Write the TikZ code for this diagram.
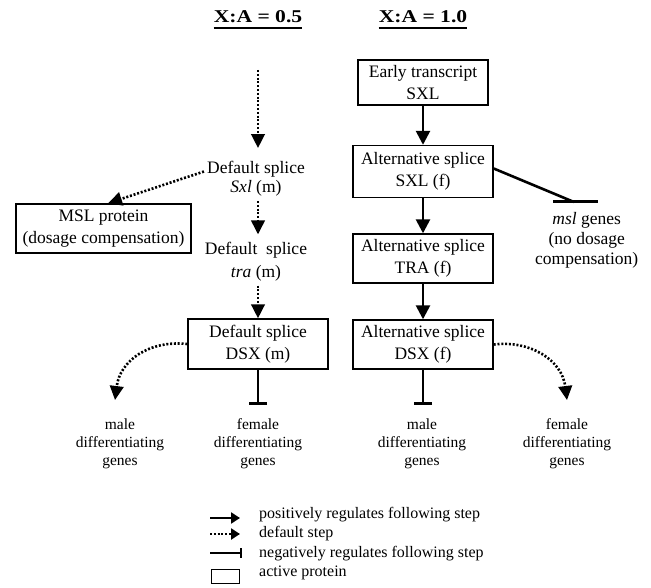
\documentclass[tikz,border=0pt]{standalone}
\usepackage{fontspec}
\usepackage{graphicx}
\setmainfont{Liberation Serif}
\usetikzlibrary{arrows.meta}
\begin{document}
\begin{tikzpicture}[x=1pt,y=-1pt,
  box/.style={draw,line width=1.4pt,align=center,inner sep=0pt,minimum width=140pt,minimum height=50pt,font=\fontsize{17.5}{21.5}\selectfont},
  txt/.style={align=center,inner sep=0pt,font=\fontsize{17.5}{19.5}\selectfont},
  gene/.style={align=center,inner sep=0pt,font=\fontsize{15.5}{18}\selectfont},
  titletext/.style={anchor=base,inner sep=0pt,font=\fontsize{18}{20}\selectfont\bfseries},
  legtext/.style={anchor=base west,inner sep=0pt,font=\fontsize{16}{18}\selectfont},
  posarrow/.style={line width=2.6pt,-{Triangle[length=14pt,width=14pt]}},
  dfltarrow/.style={line width=2.6pt,dash pattern=on 2pt off 1.8pt,-{Triangle[length=14pt,width=13.5pt]}},
  negarrow/.style={line width=2.8pt,-{Bar[width=18pt]}},
  barline/.style={line width=3pt},
]
\useasboundingbox (0,0) rectangle (651,588);

% titles
\node[titletext] (t1) at (258,22.7) {\scalebox{1.2}[1]{X:A = 0.5}};
\node[titletext] (t2) at (423,22.7) {\scalebox{1.2}[1]{X:A = 1.0}};
\draw[line width=2.2pt] ([yshift=-5.3pt]t1.base west) -- ([yshift=-5.3pt]t1.base east);
\draw[line width=2.2pt] ([yshift=-5.3pt]t2.base west) -- ([yshift=-5.3pt]t2.base east);

% left column (X:A = 0.5)
\coordinate (s0) at (258,70);
\node[txt] (dsxl) at (256,178.5) {Default splice\\\textit{Sxl} (m)};
\node[txt,font=\fontsize{17.5}{23}\selectfont] (dtra) at (256,262.1) {Default\ \ splice\\\textit{tra} (m)};
\node[box] (dsxm) at (258,344) {Default splice\\DSX (m)};
\node[box,minimum width=175pt,minimum height=49pt] (msl) at (103.5,228.5) {MSL protein\\(dosage compensation)};
\node[gene] (maleL) at (120,443.4) {male\\differentiating\\genes};
\node[gene] (femL) at (258,443.4) {female\\differentiating\\genes};
\coordinate (inhL) at (258,405);
\coordinate (tipL) at (115,400);

\draw[dfltarrow] (s0) -- ([xshift=2pt,yshift=12.5pt]dsxl.north);
\draw[dfltarrow] ([xshift=2pt,yshift=-4.5pt]dsxl.south) -- ([xshift=2pt,yshift=8pt]dtra.north);
\draw[dfltarrow] ([xshift=2pt,yshift=-3.8pt]dtra.south) -- (dsxm.north);
\draw[dfltarrow] ([xshift=-3pt,yshift=7pt]dsxl.west) -- ([xshift=4.5pt]msl.north);
\draw[negarrow] (dsxm.south) -- (inhL);
\draw[dfltarrow] (dsxm.west) .. controls (150,340) and (120,360) .. (tipL);

% right column (X:A = 1.0)
\node[box,minimum width=130pt,minimum height=45pt] (early) at (423,82.5) {Early transcript\\SXL};
\node[box,minimum height=52pt] (altsxl) at (423,171.5) {Alternative splice\\SXL (f)};
\node[box,minimum height=49pt] (alttra) at (423,258.5) {Alternative splice\\TRA (f)};
\node[box,minimum height=49pt] (dsxf) at (423,344.5) {Alternative splice\\DSX (f)};
\node[txt,font=\fontsize{17.5}{20}\selectfont] (mslg) at (586.7,240) {\textit{msl} genes\\(no dosage\\compensation)};
\node[gene] (maleR) at (422,443.4) {male\\differentiating\\genes};
\node[gene] (femR) at (567,443.4) {female\\differentiating\\genes};
\coordinate (inhR) at (423,405);
\coordinate (mslend) at (574,202);
\coordinate (barL) at (553,202);
\coordinate (barR) at (598,202);
\coordinate (tipR) at (567,400);

\draw[posarrow] (early.south) -- (altsxl.north);
\draw[posarrow] (altsxl.south) -- (alttra.north);
\draw[posarrow] (alttra.south) -- (dsxf.north);
\draw[line width=2.6pt] ([yshift=3pt]altsxl.east) -- (mslend);
\draw[barline] (barL) -- (barR);
\draw[negarrow] (dsxf.south) -- (inhR);
\draw[dfltarrow] (dsxf.east) .. controls (530,340) and (562,360) .. (tipR);

% legend
\coordinate (l1a) at (210,518); \coordinate (l1b) at (240,518);
\coordinate (l2a) at (210,534); \coordinate (l2b) at (240,534);
\coordinate (l3a) at (210,553); \coordinate (l3b) at (242,553);
\draw[line width=2.2pt,-{Triangle[length=9pt,width=11pt]}] (l1a) -- (l1b);
\draw[line width=2.2pt,dash pattern=on 2pt off 1.8pt,-{Triangle[length=9pt,width=11pt]}] (l2a) -- (l2b);
\draw[line width=2.4pt,-{Bar[width=10pt]}] (l3a) -- (l3b);
\node[draw,line width=1.2pt,minimum width=27.6pt,minimum height=14pt,inner sep=0pt] (lrect) at (225.5,576.3) {};
\node[legtext] (lt1) at (259,518) {positively regulates following step};
\node[legtext] (lt2) at (259,537.5) {default step};
\node[legtext] (lt3) at (259,557) {negatively regulates following step};
\node[legtext] (lt4) at (259,576.5) {active protein};
\end{tikzpicture}
\end{document}
